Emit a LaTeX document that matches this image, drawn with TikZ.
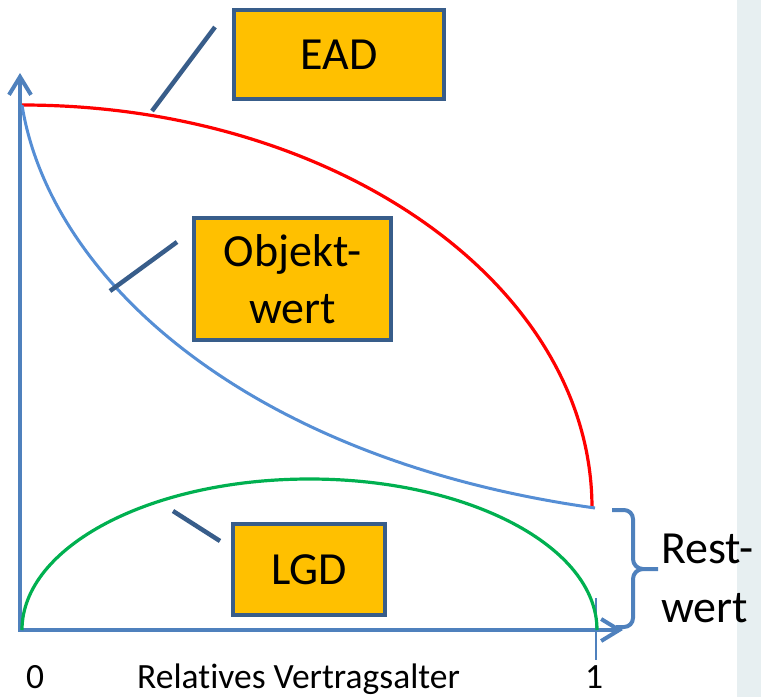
\documentclass[tikz,border=0pt]{standalone}
\usepackage{fontspec}
\setmainfont[Ligatures=NoCommon]{Carlito}
\usetikzlibrary{arrows.meta}
\definecolor{axisblue}{RGB}{79,129,189}
\definecolor{curveblue}{RGB}{85,142,213}
\definecolor{darkblue}{RGB}{56,93,138}
\definecolor{boxfill}{RGB}{255,192,0}
\definecolor{lgdgreen}{RGB}{0,176,80}
\definecolor{stripbg}{RGB}{231,239,241}
\tikzset{
  labelbox/.style={draw=darkblue, line width=4pt, fill=boxfill, inner sep=0pt,
    font=\fontsize{46}{57}\selectfont, align=center},
  leader/.style={draw=darkblue, line width=4.5pt},
  axis/.style={draw=axisblue, line width=4pt,
    -{Straight Barb[length=18pt,width=22pt,line width=4pt]}},
  smalltext/.style={inner sep=0pt, font=\fontsize{35.5}{44}\selectfont, anchor=base},
  bigtext/.style={inner sep=0pt, font=\fontsize{46}{57}\selectfont, anchor=base west},
}
\begin{document}
\begin{tikzpicture}[x=1pt,y=-1pt]
\useasboundingbox (0,0) rectangle (761,697);
\fill[stripbg] (737,0) rectangle (761,697);

% axes
\coordinate (O) at (20,630);
\coordinate (Ytip) at (20,73);
\coordinate (Xtip) at (623,630);
\draw[axis] (O) -- (Ytip);
\draw[axis] (18,630) -- (Xtip);

% tick at 1
\coordinate (T1) at (596,598);
\coordinate (T2) at (596,660);
\draw[axisblue, line width=1.5pt] (T1) -- (T2);

% EAD curve (red)
\coordinate (Top) at (22,105);
\draw[red, line width=3.2pt] (Top) arc[start angle=-90, end angle=0, x radius=570, y radius=403];

% Objektwert curve (blue)
\coordinate (Bend) at (595,508);
\draw[curveblue, line width=3pt] (Top) .. controls (50,280) and (250,460) .. (Bend);

% LGD curve (green)
\draw[lgdgreen, line width=3.2pt] (22,630) arc[start angle=180, end angle=360, x radius=287.5, y radius=151];

% brace
\draw[axisblue, line width=4pt, line join=round]
  (612,510) -- (624,510) to[out=0,in=90] (633,519) -- (633,559)
  to[out=-90,in=180] (643,569) -- (658,569);
\draw[axisblue, line width=4pt, line join=round]
  (643,569) to[out=180,in=90] (633,579) -- (633,618)
  to[out=-90,in=0] (624,627) -- (616,627);

% boxes
\node[labelbox, minimum width=210pt, minimum height=89pt] (ead) at (339,54.5) {EAD};
\node[labelbox, minimum width=197pt, minimum height=122pt] (obj) at (292.5,279) {Objekt-\\wert};
\node[labelbox, minimum width=152pt, minimum height=91pt] (lgd) at (309,569.5) {LGD};

% leader lines
\coordinate (e1) at (152,111); \coordinate (e2) at (215,27);
\coordinate (o1) at (110,291); \coordinate (o2) at (177,242);
\coordinate (l1) at (173,511); \coordinate (l2) at (220,541);
\draw[leader] (e1) -- (e2);
\draw[leader] (o1) -- (o2);
\draw[leader] (l1) -- (l2);

% texts
\node[smalltext] (zero) at (35,688) {0};
\node[smalltext] (one) at (594,688) {1};
\node[smalltext, anchor=base west] (xlabel) at (137,688) {Relatives Vertragsalter};
\node[bigtext] (rest) at (661,563) {Rest-};
\node[bigtext] (wert) at (661,622) {wert};
\end{tikzpicture}
\end{document}
